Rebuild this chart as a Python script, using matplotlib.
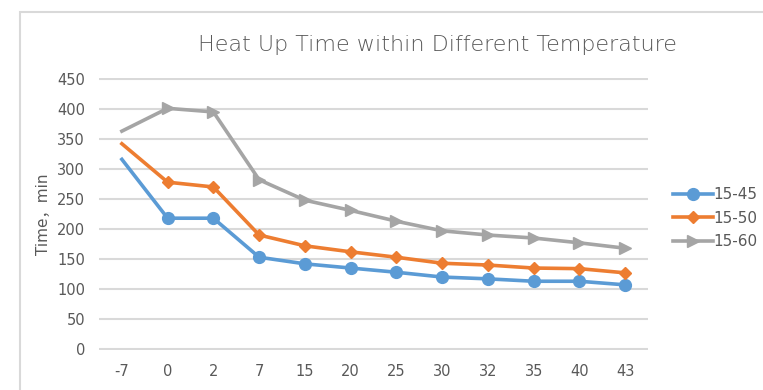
import matplotlib.pyplot as plt
from matplotlib.legend_handler import HandlerLine2D
from matplotlib.patches import Rectangle
import numpy as np

temps = ['-7', '0', '2', '7', '15', '20', '25', '30', '32', '35', '40', '43']
t_15_45 = [316, 218, 218, 153, 142, 135, 128, 120, 117, 113, 113, 107]
t_15_50 = [342, 278, 270, 190, 172, 162, 153, 143, 140, 135, 134, 127]
t_15_60 = [363, 401, 395, 282, 248, 231, 213, 197, 190, 185, 177, 168]

txt = '#595959'
grid = '#d9d9d9'


class EndMarker(HandlerLine2D):
    # marker drawn at the right end of the legend line, like Excel
    def get_xdata(self, legend, xdescent, ydescent, width, height, fontsize):
        xdata = np.array([-xdescent, -xdescent + width])
        return xdata, np.array([-xdescent + width])


fig = plt.figure(figsize=(7.63, 3.9), dpi=100)
fig.patches.append(Rectangle((20 / 763, -0.1), 1.1, 1 - 12 / 390 + 0.1,
                             transform=fig.transFigure, fill=False,
                             edgecolor=grid, lw=1.5))

ax = fig.add_axes([99 / 763, 1 - 350 / 390, 549 / 763, 272 / 390])
x = np.arange(len(temps))
idx = list(range(1, len(temps)))
ax.plot(x, t_15_45, color='#5B9BD5', lw=2.6, marker='o', ms=8.5,
        markevery=idx, label='15-45', zorder=3)
ax.plot(x, t_15_50, color='#ED7D31', lw=2.6, marker='D', ms=6,
        markevery=idx, label='15-50', zorder=3)
ax.plot(x, t_15_60, color='#A5A5A5', lw=2.6, marker='>', ms=9,
        markevery=idx, label='15-60', zorder=3)

ax.set_xlim(-0.5, len(temps) - 0.5)
ax.set_ylim(-1.5, 451.5)
ax.set_yticks(range(0, 451, 50))
ax.set_xticks(x)
ax.set_xticklabels(temps)
ax.grid(axis='y', color=grid, lw=1.5)
ax.set_axisbelow(True)
for s in ax.spines.values():
    s.set_visible(False)
ax.tick_params(length=0, colors=txt, labelsize=10.5)
ax.tick_params(axis='x', pad=10)
ax.tick_params(axis='y', pad=10)

ax.set_ylabel('Time，min', color=txt, fontsize=11,
              family=['DejaVu Sans', 'Noto Sans CJK SC'])

fig.text(437 / 763, 1 - 45 / 390, 'Heat Up Time within Different Temperature',
         ha='center', va='center', fontsize=16, color=txt, fontweight='light')

leg = ax.legend(loc='center left', bbox_to_anchor=(1.04, 0.485), frameon=False,
                handlelength=2.6, handletextpad=0.05, labelspacing=0.55,
                fontsize=11, numpoints=1, borderaxespad=0, borderpad=0.2,
                handler_map={plt.Line2D: EndMarker()})
for t in leg.get_texts():
    t.set_color(txt)

fig.savefig('out.png', dpi=100)
